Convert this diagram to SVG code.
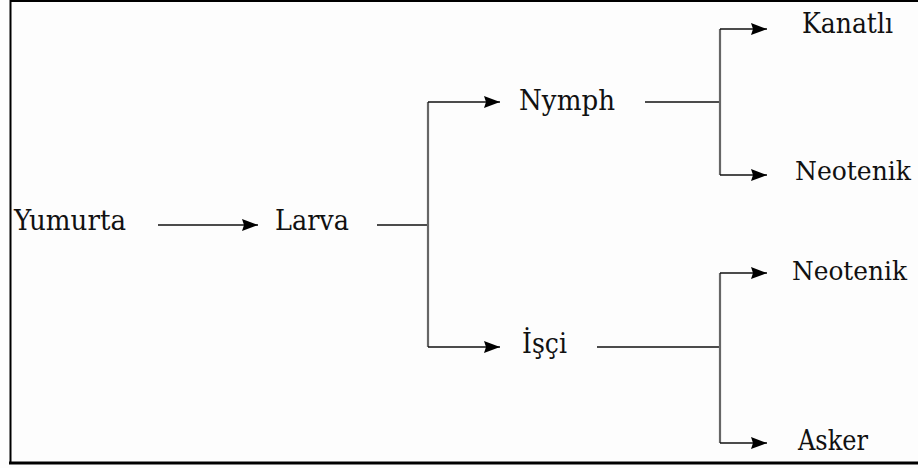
<svg xmlns="http://www.w3.org/2000/svg" width="918" height="468" viewBox="0 0 918 468">
  <style>
    .lbl { font-family: "DejaVu Serif", "Liberation Serif", "Liberation Mono", serif; font-size: 27px; fill: #111; }
    .sm { font-size: 25.5px; }
    .h { stroke: #111; stroke-width: 1.6; fill: none; }
    .v { stroke: #666; stroke-width: 2.2; fill: none; }
    .frame { stroke: #000; fill: none; }
  </style>
  <defs>
    <marker id="arr" markerWidth="16" markerHeight="12" refX="16" refY="6" orient="auto" markerUnits="userSpaceOnUse">
      <path d="M0,0 L16,6 L0,12 L2,6 Z" fill="#000"/>
    </marker>
  </defs>
  <rect width="918" height="468" fill="#fdfdfd"/>
  <g id="frame">
    <path class="frame" stroke-width="2" d="M920,1 L10.5,1 L10.5,463"/>
    <path class="frame" stroke-width="3" d="M9,463 L920,463"/>
  </g>
  <g id="connectors">
    <path class="h" d="M158,225 L258,225" marker-end="url(#arr)"/>
    <path class="h" d="M377,225 L428,225"/>
    <path class="v" d="M428,102 L428,347"/>
    <path class="h" d="M428,102 L500,102" marker-end="url(#arr)"/>
    <path class="h" d="M428,347 L500,347" marker-end="url(#arr)"/>
    <path class="h" d="M645,102 L720,102"/>
    <path class="v" d="M720,29 L720,175"/>
    <path class="h" d="M720,29 L767,29" marker-end="url(#arr)"/>
    <path class="h" d="M720,175 L767,175" marker-end="url(#arr)"/>
    <path class="h" d="M597,347 L720,347"/>
    <path class="v" d="M720,273 L720,443"/>
    <path class="h" d="M720,273 L767,273" marker-end="url(#arr)"/>
    <path class="h" d="M720,443 L767,443" marker-end="url(#arr)"/>
  </g>
  <g id="yumurta"><text class="lbl" x="14" y="230" textLength="112" lengthAdjust="spacingAndGlyphs">Yumurta</text></g>
  <g id="larva"><text class="lbl" x="275" y="230" textLength="74" lengthAdjust="spacingAndGlyphs">Larva</text></g>
  <g id="nymph"><text class="lbl" x="519" y="110" textLength="96" lengthAdjust="spacingAndGlyphs">Nymph</text></g>
  <g id="isci"><text class="lbl" x="522" y="353" textLength="45" lengthAdjust="spacingAndGlyphs">İşçi</text></g>
  <g id="kanatli"><text class="lbl" x="802" y="33" textLength="91" lengthAdjust="spacingAndGlyphs">Kanatlı</text></g>
  <g id="neotenik1"><text class="lbl sm" x="795" y="180" textLength="116" lengthAdjust="spacingAndGlyphs">Neotenik</text></g>
  <g id="neotenik2"><text class="lbl sm" x="792" y="280" textLength="115" lengthAdjust="spacingAndGlyphs">Neotenik</text></g>
  <g id="asker"><text class="lbl" x="798" y="450" textLength="70" lengthAdjust="spacingAndGlyphs">Asker</text></g>
</svg>
